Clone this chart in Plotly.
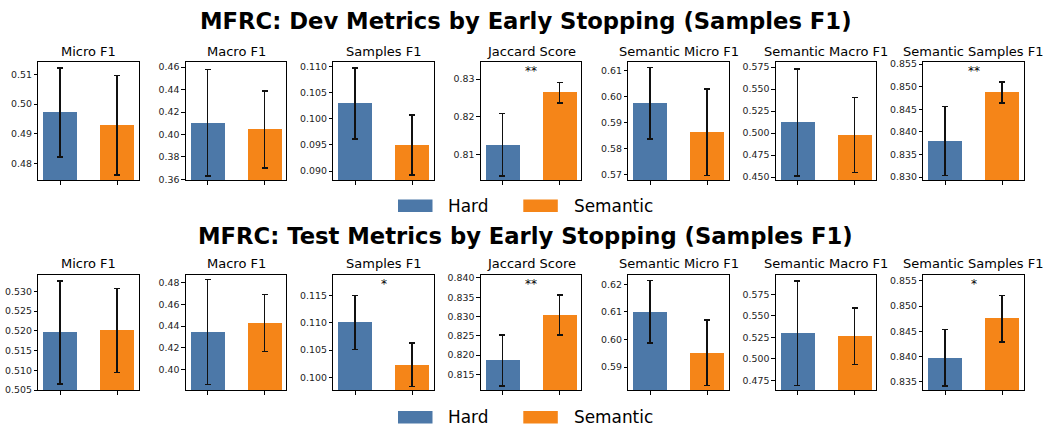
import plotly.graph_objects as go

W, H = 1045, 432

metrics = ["Micro F1", "Macro F1", "Samples F1", "Jaccard Score",
           "Semantic Micro F1", "Semantic Macro F1", "Semantic Samples F1"]
methods = ["Hard", "Semantic"]
colors = ["#4C78A8", "#F58518"]

row_titles = ["MFRC: Dev Metrics by Early Stopping (Samples F1)",
              "MFRC: Test Metrics by Early Stopping (Samples F1)"]

dev_hard_mean = [0.4971, 0.4104, 0.1029, 0.8125, 0.5974, 0.5120, 0.8380]
dev_hard_std = [0.0150, 0.0475, 0.0068, 0.0083, 0.0137, 0.0610, 0.0076]
dev_sem_mean = [0.4929, 0.4044, 0.0950, 0.8264, 0.5863, 0.4978, 0.8487]
dev_sem_std = [0.0168, 0.0345, 0.0057, 0.0027, 0.0166, 0.0428, 0.0023]
dev_sig = ["", "", "", "**", "", "", "**"]

test_hard_mean = [0.5196, 0.4346, 0.1101, 0.8186, 0.6100, 0.5299, 0.8397]
test_hard_std = [0.0131, 0.0481, 0.0050, 0.0066, 0.0113, 0.0608, 0.0056]
test_sem_mean = [0.5201, 0.4427, 0.1023, 0.8304, 0.5952, 0.5265, 0.8475]
test_sem_std = [0.0106, 0.0262, 0.0040, 0.0052, 0.0118, 0.0330, 0.0046]
test_sig = ["", "", "*", "**", "", "", "*"]

dev_ylim = [[0.4743, 0.5141], [0.3591, 0.4644], [0.08825, 0.1108], [0.8031, 0.8345],
            [0.5678, 0.6131], [0.4463, 0.5806], [0.8293, 0.8554]]
test_ylim = [[0.50495, 0.5341], [0.3811, 0.4868], [0.0976, 0.1188], [0.8109, 0.8407],
             [0.5816, 0.6233], [0.4636, 0.5973], [0.8333, 0.8561]]
dev_dtick = [0.01, 0.02, 0.005, 0.01, 0.01, 0.025, 0.005]
test_dtick = [0.005, 0.02, 0.005, 0.005, 0.01, 0.025, 0.005]
dev_fmt = [".2f", ".2f", ".3f", ".2f", ".2f", ".3f", ".3f"]
test_fmt = [".3f", ".2f", ".3f", ".3f", ".2f", ".3f", ".3f"]

rows = [
    dict(hm=dev_hard_mean, hs=dev_hard_std, sm=dev_sem_mean, ss=dev_sem_std,
         sig=dev_sig, ylim=dev_ylim, dtick=dev_dtick, fmt=dev_fmt),
    dict(hm=test_hard_mean, hs=test_hard_std, sm=test_sem_mean, ss=test_sem_std,
         sig=test_sig, ylim=test_ylim, dtick=test_dtick, fmt=test_fmt),
]

FONT = "DejaVu Sans"

def px_x(x):
    return x / W

def px_y(y):
    return 1 - y / H

# layout geometry (pixels)
left0, step, aw = 38.3, 147.5, 100.5
row_box = [(59.5, 180.0), (277.0, 394.5)]
title_y = [17.0, 236.5]
sub_title_y = [48.5, 265.5]
star_y = [68.5, 285.5]
legend_y = [206.0, 422.0]

fig = go.Figure()
layout = dict(
    width=W, height=H, margin=dict(l=0, r=0, t=0, b=0),
    paper_bgcolor="white", plot_bgcolor="white",
    font=dict(family=FONT, color="#000"),
    showlegend=False, bargap=0,
)
annotations = []
shapes = []

for r, row in enumerate(rows):
    top, bot = row_box[r]
    for c in range(7):
        idx = r * 7 + c + 1
        xa = f"x{idx}"
        ya = f"y{idx}"
        vals = [(row["hm"][c], row["hs"][c]), (row["sm"][c], row["ss"][c])]
        for k, (m, s) in enumerate(vals):
            fig.add_trace(go.Bar(
                x=[k], y=[m], width=0.6, name=methods[k],
                marker=dict(color=colors[k], line=dict(width=0)),
                error_y=dict(type="data", array=[s], visible=True,
                             color="#111", thickness=1.5, width=3),
                xaxis=xa, yaxis=ya, showlegend=False,
            ))
        x0 = left0 + c * step
        layout[f"xaxis{idx}"] = dict(
            domain=[px_x(x0), px_x(x0 + aw)], anchor=ya,
            range=[-0.38, 1.38], tickvals=[0, 1], ticktext=["", ""],
            ticks="outside", ticklen=3.5, tickwidth=1, tickcolor="#000",
            showline=True, linecolor="#000", linewidth=1, mirror=True,
            showgrid=False, zeroline=False, fixedrange=True,
        )
        layout[f"yaxis{idx}"] = dict(
            domain=[px_y(bot), px_y(top)], anchor=xa,
            range=row["ylim"][c], tick0=0, dtick=row["dtick"][c],
            tickformat=row["fmt"][c],
            ticks="outside", ticklen=3.5, tickwidth=1, tickcolor="#000",
            tickfont=dict(size=9.4, family=FONT, color="#222"),
            showline=True, linecolor="#000", linewidth=1, mirror=True,
            showgrid=False, zeroline=False, fixedrange=True,
        )
        annotations.append(dict(
            text=metrics[c], xref="paper", yref="paper",
            x=px_x(x0 + aw / 2), y=px_y(sub_title_y[r]),
            xanchor="center", yanchor="middle", showarrow=False,
            font=dict(size=13, family=FONT, color="#000"),
        ))
        if row["sig"][c]:
            annotations.append(dict(
                text=row["sig"][c], xref=xa, yref="paper",
                x=0.5, y=px_y(star_y[r]),
                xanchor="center", yanchor="middle", showarrow=False,
                font=dict(size=12, family=FONT, color="#000"),
            ))
    annotations.append(dict(
        text=f"<b>{row_titles[r]}</b>", xref="paper", yref="paper",
        x=px_x(525.5), y=px_y(title_y[r]), xanchor="center", yanchor="middle",
        showarrow=False, font=dict(size=22.7, family=FONT, color="#000"),
    ))
    # legend (patches + labels)
    ly = legend_y[r]
    for k, (pl, tx) in enumerate([(398.0, 447.0), (523.3, 572.7)]):
        shapes.append(dict(
            type="rect", xref="paper", yref="paper",
            x0=px_x(pl), x1=px_x(pl + 34.5), y0=px_y(ly + 6.3), y1=px_y(ly - 6.3),
            fillcolor=colors[k], line=dict(width=0),
        ))
        annotations.append(dict(
            text=methods[k], xref="paper", yref="paper",
            x=px_x(tx - 1), y=px_y(ly), xanchor="left", yanchor="middle",
            showarrow=False, font=dict(size=16.9, family=FONT, color="#000"),
        ))

layout["annotations"] = annotations
layout["shapes"] = shapes
fig.update_layout(**layout)

fig.write_html("out.html", config={"displayModeBar": False})
